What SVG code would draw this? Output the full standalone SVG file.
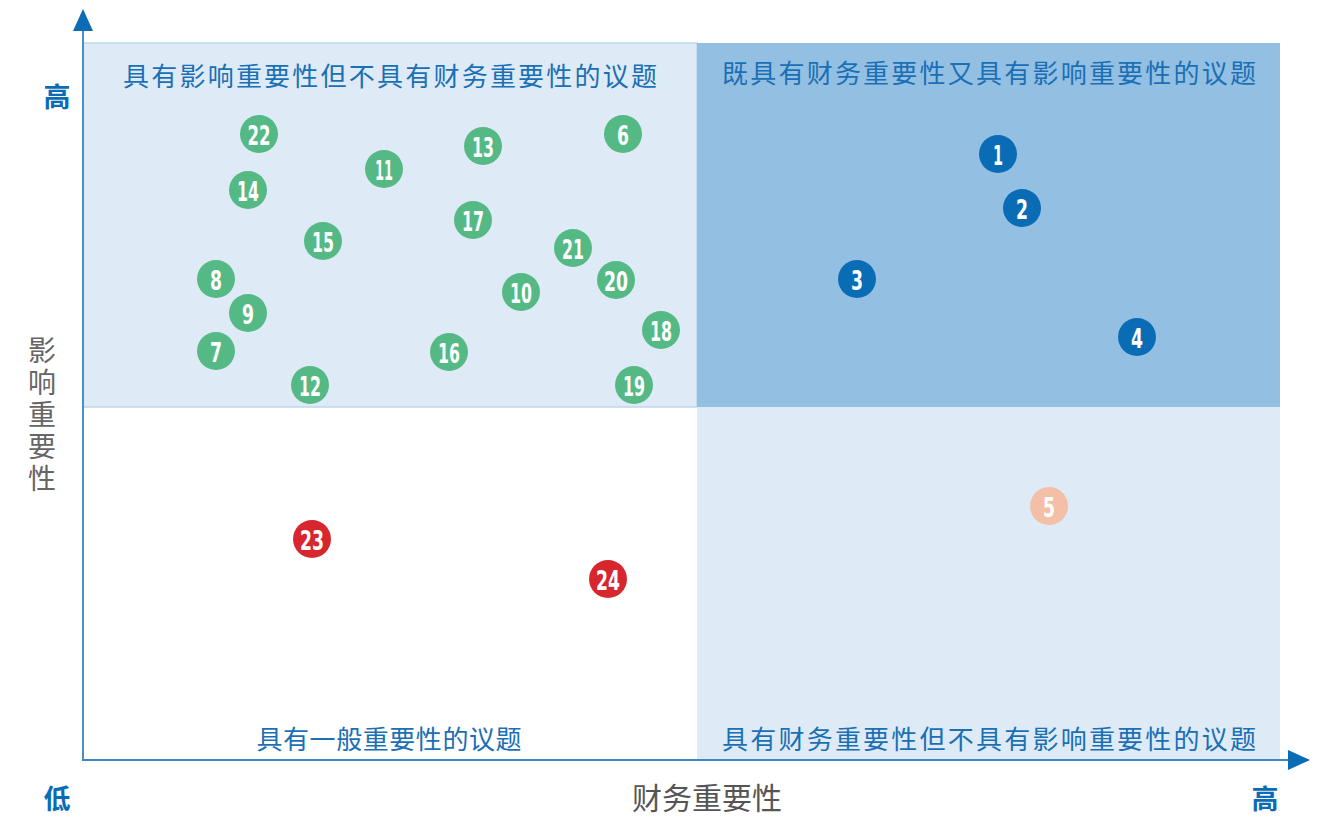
<svg xmlns="http://www.w3.org/2000/svg" width="1325" height="816" viewBox="0 0 1325 816">
<style>
.q{font-family:"Noto Sans CJK SC","Noto Sans",sans-serif;font-size:26px;fill:#1a6fb5;text-anchor:middle;dominant-baseline:central}
.ax{font-family:"Noto Sans CJK SC",sans-serif;font-size:27px;font-weight:bold;fill:#0a6cb5;text-anchor:middle;dominant-baseline:central}
.tl{font-family:"Noto Sans CJK SC",sans-serif;font-size:30px;fill:#555;text-anchor:middle;dominant-baseline:central}
.vl{font-family:"Noto Sans CJK SC",sans-serif;font-size:28px;fill:#666;writing-mode:vertical-rl;letter-spacing:4px}
.n{font-family:"DejaVu Sans Condensed","DejaVu Sans",sans-serif;font-size:27px;font-weight:bold;fill:#fff;text-anchor:middle;dominant-baseline:central}
.g{fill:#55b985}.b{fill:#0a6cb5}.s{fill:#f3c0a7}.r{fill:#d7262e}
</style>
<g id="quadrants">
<rect x="83" y="43" width="614" height="364" fill="#deebf6" stroke="#bfd8ec" stroke-width="1.5"/>
<rect x="697" y="43" width="583" height="364" fill="#93c0e2"/>
<rect x="697" y="407" width="583" height="353" fill="#deebf6"/>
<text class="q" x="390" y="74" textLength="534" lengthAdjust="spacing">具有影响重要性但不具有财务重要性的议题</text>
<text class="q" x="989" y="71" textLength="534" lengthAdjust="spacing">既具有财务重要性又具有影响重要性的议题</text>
<text class="q" x="389" y="737" textLength="265" lengthAdjust="spacing">具有一般重要性的议题</text>
<text class="q" x="989" y="737" textLength="534" lengthAdjust="spacing">具有财务重要性但不具有影响重要性的议题</text>
</g>
<g id="connectors">
<line x1="83" y1="28" x2="83" y2="761" stroke="#4a90c8" stroke-width="2"/>
<polygon points="83,9 73,31 93,31" fill="#0a6cb5"/>
<line x1="82" y1="760" x2="1292" y2="760" stroke="#3c86c4" stroke-width="2"/>
<polygon points="1310,760 1288,750 1288,770" fill="#0a6cb5"/>
</g>
<g id="axis-labels">
<text class="ax" x="57" y="95">高</text>
<text class="ax" x="57" y="797">低</text>
<text class="ax" x="1265" y="797">高</text>
<text class="tl" x="707" y="796">财务重要性</text>
<text class="vl" x="42" y="336">影响重要性</text>
</g>
<g id="n22"><circle class="g" cx="259" cy="134" r="19"/><text class="n" x="259" y="135" textLength="23" lengthAdjust="spacingAndGlyphs">22</text></g>
<g id="n14"><circle class="g" cx="248" cy="190" r="19"/><text class="n" x="248" y="191" textLength="22" lengthAdjust="spacingAndGlyphs">14</text></g>
<g id="n11"><circle class="g" cx="384" cy="169" r="19"/><text class="n" x="384" y="170" textLength="18" lengthAdjust="spacingAndGlyphs">11</text></g>
<g id="n15"><circle class="g" cx="323" cy="241" r="19"/><text class="n" x="323" y="242" textLength="22" lengthAdjust="spacingAndGlyphs">15</text></g>
<g id="n8"><circle class="g" cx="216" cy="279" r="19"/><text class="n" x="216" y="280" textLength="12" lengthAdjust="spacingAndGlyphs">8</text></g>
<g id="n9"><circle class="g" cx="248" cy="313" r="19"/><text class="n" x="248" y="314" textLength="12" lengthAdjust="spacingAndGlyphs">9</text></g>
<g id="n7"><circle class="g" cx="216" cy="351" r="19"/><text class="n" x="216" y="352" textLength="12" lengthAdjust="spacingAndGlyphs">7</text></g>
<g id="n12"><circle class="g" cx="310" cy="385" r="19"/><text class="n" x="310" y="386" textLength="22" lengthAdjust="spacingAndGlyphs">12</text></g>
<g id="n13"><circle class="g" cx="483" cy="146" r="19"/><text class="n" x="483" y="147" textLength="22" lengthAdjust="spacingAndGlyphs">13</text></g>
<g id="n17"><circle class="g" cx="473" cy="220" r="19"/><text class="n" x="473" y="221" textLength="22" lengthAdjust="spacingAndGlyphs">17</text></g>
<g id="n16"><circle class="g" cx="449" cy="352" r="19"/><text class="n" x="449" y="353" textLength="22" lengthAdjust="spacingAndGlyphs">16</text></g>
<g id="n10"><circle class="g" cx="521" cy="292" r="19"/><text class="n" x="521" y="293" textLength="22" lengthAdjust="spacingAndGlyphs">10</text></g>
<g id="n21"><circle class="g" cx="573" cy="248" r="19"/><text class="n" x="573" y="249" textLength="22" lengthAdjust="spacingAndGlyphs">21</text></g>
<g id="n20"><circle class="g" cx="616" cy="280" r="19"/><text class="n" x="616" y="281" textLength="24" lengthAdjust="spacingAndGlyphs">20</text></g>
<g id="n18"><circle class="g" cx="661" cy="330" r="19"/><text class="n" x="661" y="331" textLength="22" lengthAdjust="spacingAndGlyphs">18</text></g>
<g id="n19"><circle class="g" cx="634" cy="385" r="19"/><text class="n" x="634" y="386" textLength="22" lengthAdjust="spacingAndGlyphs">19</text></g>
<g id="n6"><circle class="g" cx="623" cy="134" r="19"/><text class="n" x="623" y="135" textLength="12" lengthAdjust="spacingAndGlyphs">6</text></g>
<g id="n1"><circle class="b" cx="998" cy="154" r="19"/><text class="n" x="998" y="155" textLength="10" lengthAdjust="spacingAndGlyphs">1</text></g>
<g id="n2"><circle class="b" cx="1022" cy="208" r="19"/><text class="n" x="1022" y="209" textLength="12" lengthAdjust="spacingAndGlyphs">2</text></g>
<g id="n3"><circle class="b" cx="857" cy="279" r="19"/><text class="n" x="857" y="280" textLength="12" lengthAdjust="spacingAndGlyphs">3</text></g>
<g id="n4"><circle class="b" cx="1137" cy="337" r="19"/><text class="n" x="1137" y="338" textLength="12" lengthAdjust="spacingAndGlyphs">4</text></g>
<g id="n5"><circle class="s" cx="1049" cy="506" r="19"/><text class="n" x="1049" y="507" textLength="12" lengthAdjust="spacingAndGlyphs">5</text></g>
<g id="n23"><circle class="r" cx="312" cy="539" r="19"/><text class="n" x="312" y="540" textLength="24" lengthAdjust="spacingAndGlyphs">23</text></g>
<g id="n24"><circle class="r" cx="608" cy="579" r="19"/><text class="n" x="608" y="580" textLength="24" lengthAdjust="spacingAndGlyphs">24</text></g>
</svg>
